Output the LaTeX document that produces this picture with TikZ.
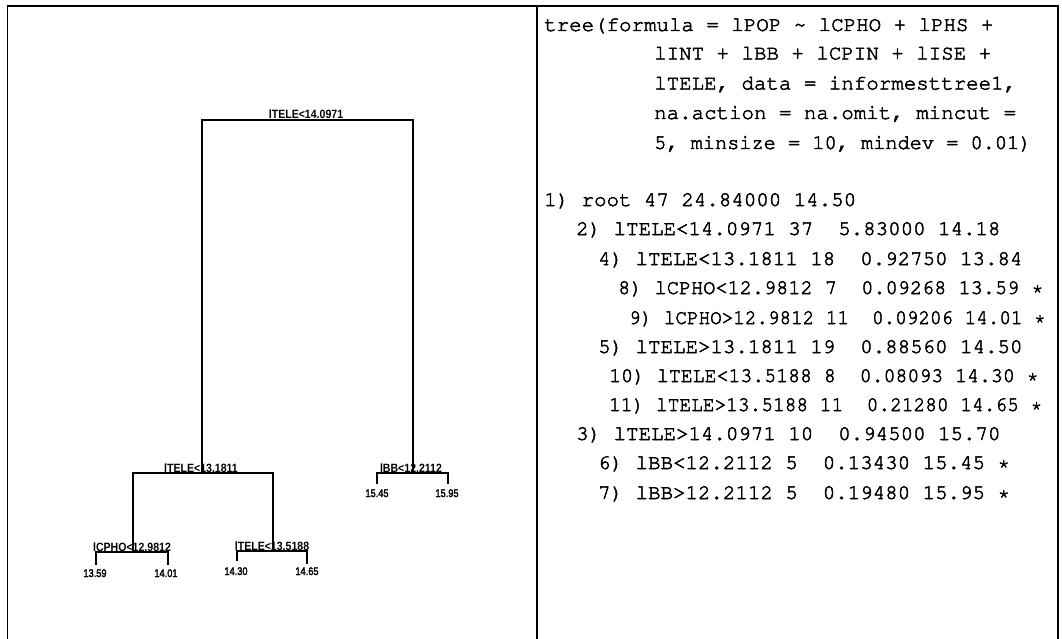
\documentclass[tikz,border=0pt]{standalone}
\usepackage[T1]{fontenc}
\usepackage{fontspec}
\usepackage{graphicx}
\newfontfamily\labfont{Liberation Sans}
\newcommand\crfont{\fontencoding{T1}\fontfamily{pcr}\fontseries{m}\fontshape{n}\selectfont}
\newcommand\heavyon[1]{\special{pdf:literal direct 2 Tr #1 w}}
\newcommand\heavyoff{\special{pdf:literal direct 0 Tr}}
\begin{document}
\begin{tikzpicture}[x=1pt,y=-1pt,
  mono/.style={font=\crfont\fontsize{20.8}{24}\selectfont, inner sep=0pt, anchor=base west,
    execute at begin node={\heavyon{0.5}}, execute at end node={\heavyoff}},
  splitlab/.style={font=\labfont\bfseries\fontsize{12}{14}\selectfont, inner sep=0pt, anchor=base},
  leaflab/.style={font=\labfont\fontsize{11}{13}\selectfont, inner sep=0pt, anchor=base,
    execute at begin node={\heavyon{0.3}}, execute at end node={\heavyoff}},
  frame/.style={line width=1.4pt},
  branch/.style={line width=1.4pt}]
\useasboundingbox (0,0) rectangle (1062,639);
% frame
\coordinate (fbl) at (7.5,639);
\coordinate (ftl) at (7.5,6);
\coordinate (ftr) at (1058,6);
\coordinate (fbr) at (1058,639);
\coordinate (dtop) at (537,6);
\coordinate (dbot) at (537,639);
\draw[frame] (fbl) -- (ftl) -- (ftr) -- (fbr);
\draw[frame] (dtop) -- (dbot);
% tree split points
\coordinate (rootL) at (202,120);
\coordinate (rootR) at (413,120);
\coordinate (n2) at (202,473);
\coordinate (n3) at (413,473);
\coordinate (n4) at (133,473);
\coordinate (n5) at (273,473);
\coordinate (n6) at (377,473);
\coordinate (n7) at (448,473);
\coordinate (n4b) at (133,552);
\coordinate (n5b) at (273,551);
\coordinate (n8) at (96,552);
\coordinate (n9) at (168,552);
\coordinate (n10) at (237,551);
\coordinate (n11) at (307,551);
\coordinate (l6) at (377,484);
\coordinate (l7) at (448,484);
\coordinate (l8) at (96,565);
\coordinate (l9) at (168,565);
\coordinate (l10) at (237,561);
\coordinate (l11) at (307,564);
\draw[branch] (n2) -- (rootL) -- (rootR) -- (n3);
\draw[branch] (n4b) -- (n4) -- (n5) -- (n5b);
\draw[branch] (l6) -- (n6) -- (n7) -- (l7);
\draw[branch] (l8) -- (n8) -- (n9) -- (l9);
\draw[branch] (l10) -- (n10) -- (n11) -- (l11);
% split labels
\node[splitlab] (s1) at (306,119) {\scalebox{0.88}[1]{lTELE<14.0971}};
\node[splitlab] (s2) at (201,472) {\scalebox{0.88}[1]{lTELE<13.1811}};
\node[splitlab] (s3) at (411,472) {\scalebox{0.88}[1]{lBB<12.2112}};
\node[splitlab] (s4) at (132,551) {\scalebox{0.88}[1]{lCPHO<12.9812}};
\node[splitlab] (s5) at (272,550) {\scalebox{0.88}[1]{lTELE<13.5188}};
% leaf labels
\node[leaflab] (v8) at (95,577) {\scalebox{0.84}[1]{13.59}};
\node[leaflab] (v9) at (166,577) {\scalebox{0.84}[1]{14.01}};
\node[leaflab] (v10) at (236,575) {\scalebox{0.84}[1]{14.30}};
\node[leaflab] (v11) at (307,575) {\scalebox{0.84}[1]{14.65}};
\node[leaflab] (v6) at (377,497) {\scalebox{0.84}[1]{15.45}};
\node[leaflab] (v7) at (447,497) {\scalebox{0.84}[1]{15.95}};
% text panel
\node[mono] (f1) at (544,31) {tree(formula = lPOP \textasciitilde{} lCPHO + lPHS +};
\node[mono] (f2) at (654,59.5) {lINT + lBB + lCPIN + lISE +};
\node[mono] (f3) at (654,89.5) {lTELE, data = informesttree1,};
\node[mono] (f4) at (654,119) {na.action = na.omit, mincut =};
\node[mono] (f5) at (654,149) {\scalebox{0.975}[1]{5, minsize = 10, mindev = 0.01)}};
\node[mono] (t1) at (544,206) {1) root 47 24.84000 14.50};
\node[mono] (t2) at (576,235) {2) lTELE<14.0971 37\ \ 5.83000 14.18};
\node[mono] (t4) at (598,265) {4) lTELE<13.1811 18\ \ 0.92750 13.84};
\node[mono] (t8) at (618,294) {\scalebox{0.974}[1]{8) lCPHO<12.9812 7\ \ 0.09268 13.59 *}};
\node[mono] (t9) at (629,324) {\scalebox{0.927}[1]{9) lCPHO>12.9812 11\ \ 0.09206 14.01 *}};
\node[mono] (t5) at (598,353) {5) lTELE>13.1811 19\ \ 0.88560 14.50};
\node[mono] (t10) at (609,382) {\scalebox{0.956}[1]{10) lTELE<13.5188 8\ \ 0.08093 14.30 *}};
\node[mono] (t11) at (609,411) {\scalebox{0.938}[1]{11) lTELE>13.5188 11\ \ 0.21280 14.65 *}};
\node[mono] (t3) at (576,440) {3) lTELE>14.0971 10\ \ 0.94500 15.70};
\node[mono] (t6) at (598,469) {6) lBB<12.2112 5\ \ 0.13430 15.45 *};
\node[mono] (t7) at (598,499) {7) lBB>12.2112 5\ \ 0.19480 15.95 *};
\end{tikzpicture}
\end{document}
